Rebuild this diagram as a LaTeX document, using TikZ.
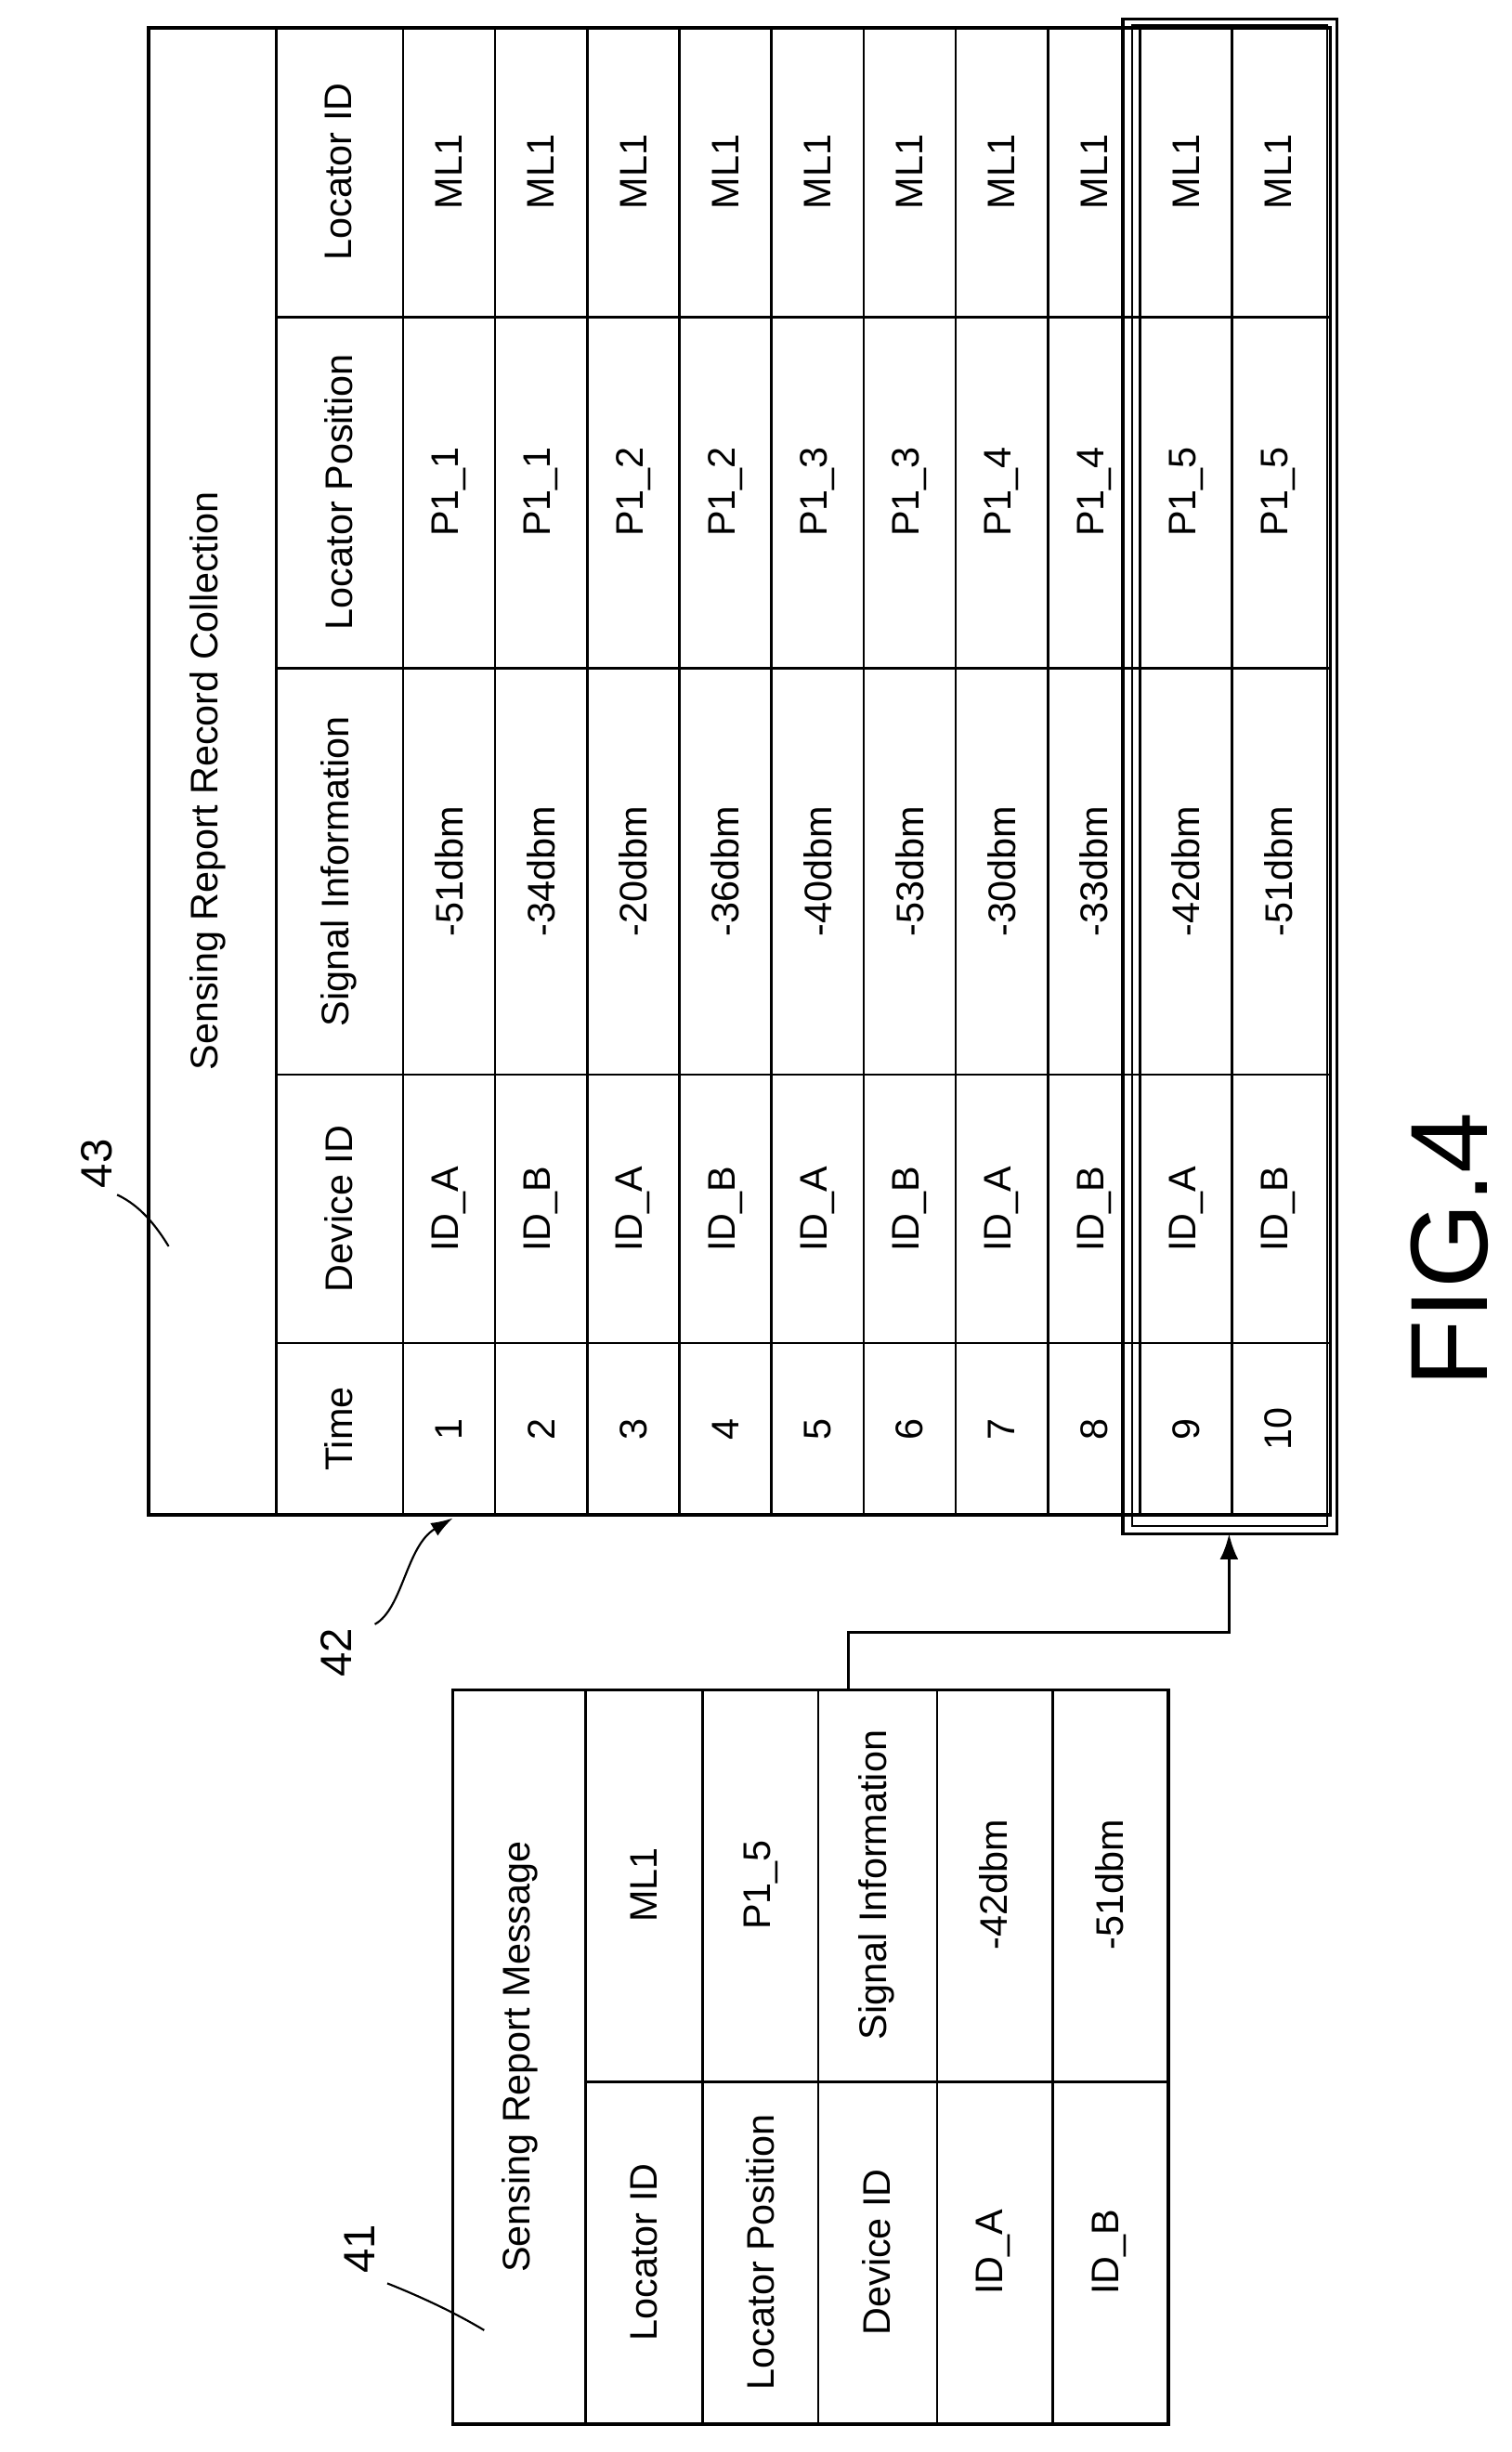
\documentclass[tikz,border=0pt]{standalone}
\usepackage{fontspec}
\setmainfont{Liberation Sans}
\usetikzlibrary{arrows.meta}
\tikzset{
  cell/.style={rotate=90, font=\fontsize{21}{25}\selectfont},
  tag/.style={rotate=90, font=\fontsize{24}{28}\selectfont},
  frame/.style={line width=1.8pt},
  leader/.style={line width=1.1pt}
}
\begin{document}
\begin{tikzpicture}[x=0.03cm, y=-0.03cm, line width=1.3pt]
  \useasboundingbox (0,0) rectangle (968,1570);
  % record collection
  \draw[frame] (95,18) rectangle (852,970);
  \draw (177,18) -- (177,970);
  \foreach \i in {0,...,9}
    \draw ({258+59*\i},18) -- ({258+59*\i},970);
  \foreach \y in {203,428,688,860}
    \draw (177,\y) -- (852,\y);
  \node[cell] (title) at (133,500) {Sensing Report Record Collection};
  \node[cell] (hTime) at (217,915) {Time};
  \node[cell] (hDev) at (217,774) {Device ID};
  \node[cell] (hSig) at (217,558) {Signal Information};
  \node[cell] (hPos) at (217,315) {Locator Position};
  \node[cell] (hLoc) at (217,110) {Locator ID};
  \foreach \t/\d/\s/\p [count=\i] in {1/A/51/1,2/B/34/1,3/A/20/2,4/B/36/2,5/A/40/3,
      6/B/53/3,7/A/30/4,8/B/33/4,9/A/42/5,10/B/51/5} {
    \node[cell] (t\i) at ({228.5+59*\i},915) {\t};
    \node[cell] (d\i) at ({228.5+59*\i},774) {ID\_\d};
    \node[cell] (s\i) at ({228.5+59*\i},558) {-\s dbm};
    \node[cell] (p\i) at ({228.5+59*\i},315) {P1\_\p};
    \node[cell] (l\i) at ({228.5+59*\i},110) {ML1};
  }
  % highlighted rows
  \draw[line width=1.6pt] (719,12) rectangle (856,982);
  \draw[line width=1pt] (725,16) rectangle (850,977);
  \coordinate (hl) at (787,982);
  % report message
  \draw[frame] (290,1082) rectangle (748,1552);
  \draw (375,1082) -- (375,1552);
  \foreach \x in {450,524,600,674}
    \draw (\x,1082) -- (\x,1552);
  \draw (375,1333) -- (748,1333);
  \node[cell] (mTitle) at (333,1317) {Sensing Report Message};
  \foreach \k/\v [count=\i] in {Locator ID/ML1,Locator Position/P1\_5,
      Device ID/Signal Information,ID\_A/-42dbm,ID\_B/-51dbm} {
    \node[cell] (mk\i) at ({338+74.5*\i},1442) {\k};
    \node[cell] (mv\i) at ({338+74.5*\i},1207) {\v};
  }
  \coordinate (out) at (543,1082);
  \draw[line width=1.6pt, -{Latex[length=14pt,width=10pt]}] (out) |- (787,1045) -- (hl);
  % reference numerals
  \node[tag] (n43) at (62,745) {43};
  \draw[leader] (75,765) .. controls (90,772) and (100,785) .. (108,798);
  \node[tag] (n42) at (215,1058) {42};
  \coordinate (c42) at (290,972);
  \draw[leader, -{Latex[length=12pt,width=8pt]}] (240,1040) .. controls (258,1030) and (260,990) .. (c42);
  \node[tag] (n41) at (230,1440) {41};
  \draw[leader] (248,1462) .. controls (268,1470) and (290,1480) .. (310,1492);
  \node[rotate=90, font=\fontsize{60}{66}\selectfont] (fig) at (928,800) {FIG.4};
\end{tikzpicture}
\end{document}
